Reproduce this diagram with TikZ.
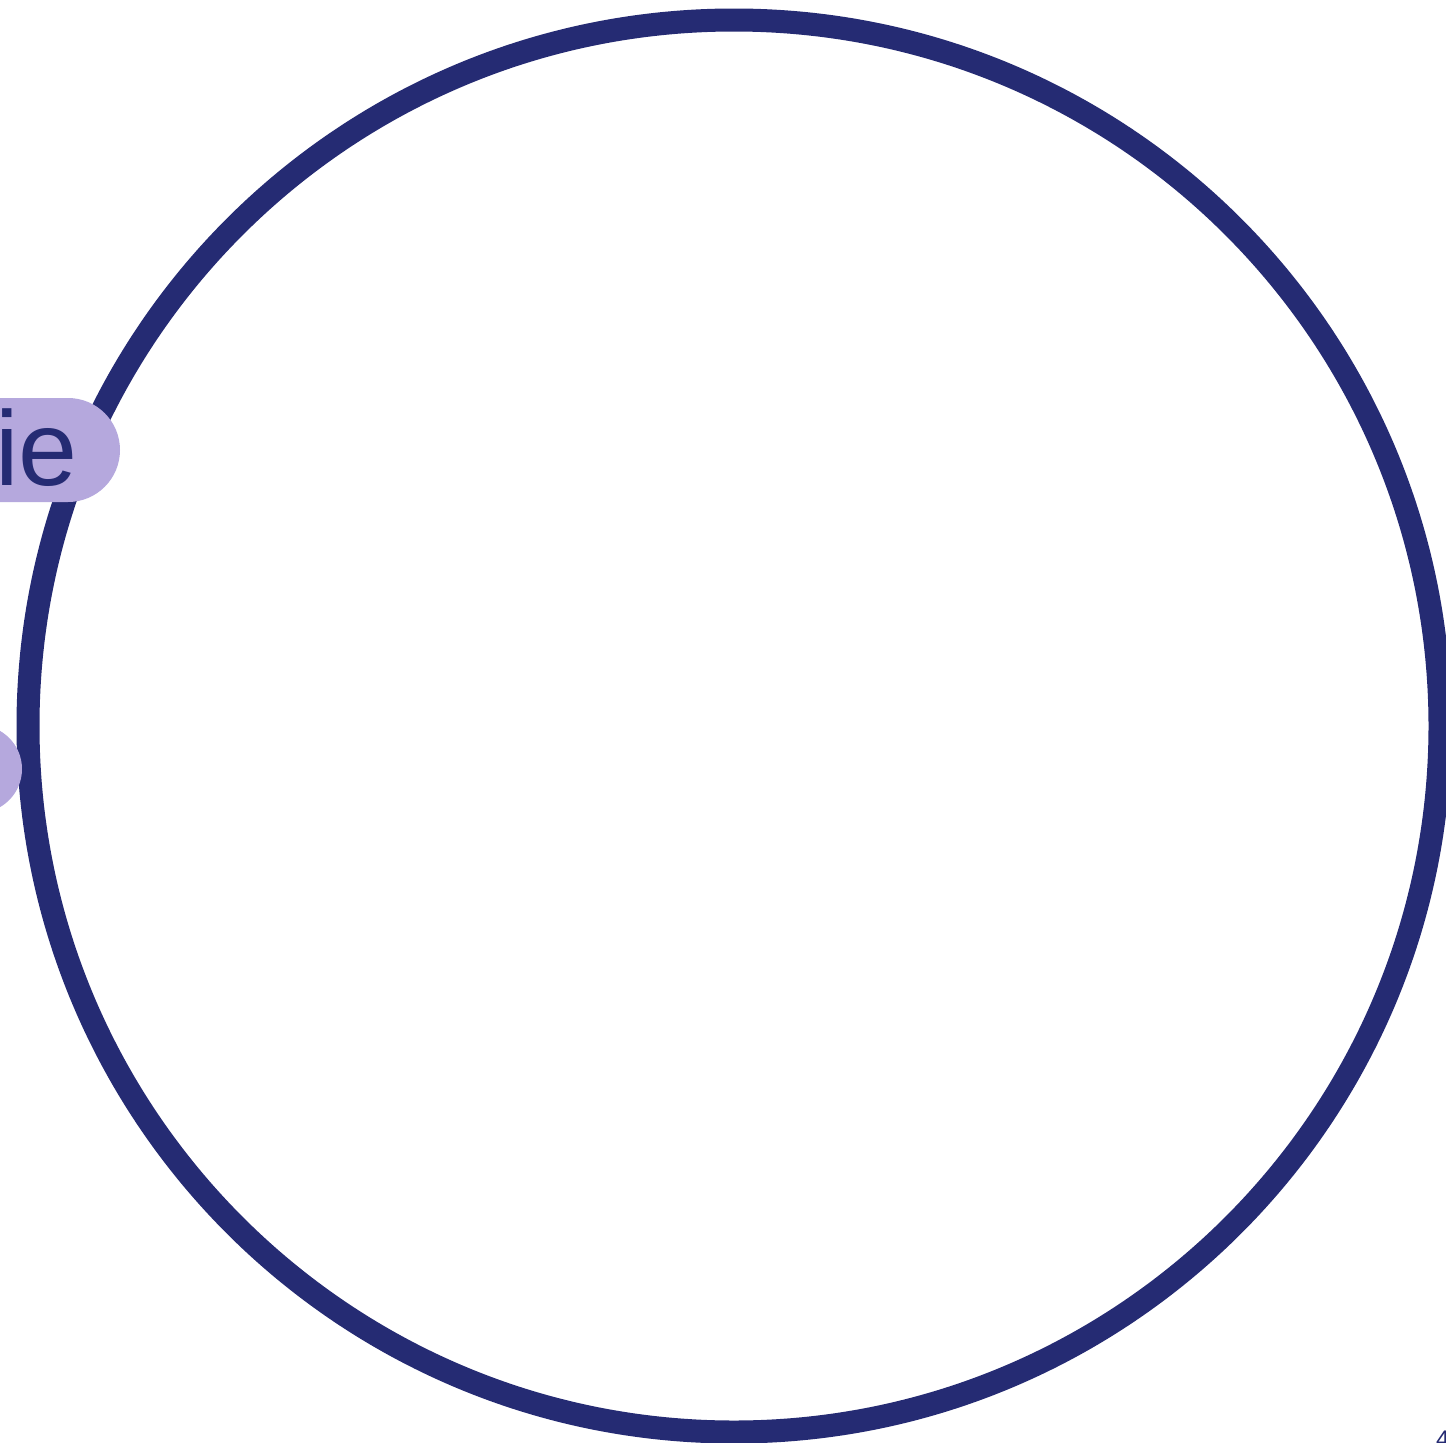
\documentclass[tikz,border=0pt]{standalone}
\usepackage{fontspec}
\setmainfont{Liberation Sans}
\definecolor{navy}{RGB}{37,43,115}
\definecolor{lav}{RGB}{181,168,221}
\begin{document}
\begin{tikzpicture}[x=1pt,y=-1pt,
  ring/.style={draw=navy,line width=23pt},
  pill/.style={fill=lav,draw=none},
  lbl/.style={text=navy,inner sep=0pt}]
\useasboundingbox (0,0) rectangle (1446,1443);
\fill[white] (0,0) rectangle (1446,1443);
\begin{scope}
\clip (0,0) rectangle (1446,1443);
\coordinate (c) at (734,726);
\draw[ring] (c) circle (706);
\fill[pill,rounded corners=52pt] (-300,398) rectangle (120,502);
\node[lbl,anchor=base east,font=\fontsize{106}{120}\selectfont] (ie) at (78,485) {ie};
\fill[pill,rounded corners=44pt] (-300,725) rectangle (22,813);
\node[lbl,anchor=north west,font=\fontsize{24}{28}\selectfont] (four) at (1436,1431) {4};
\end{scope}
\end{tikzpicture}
\end{document}
